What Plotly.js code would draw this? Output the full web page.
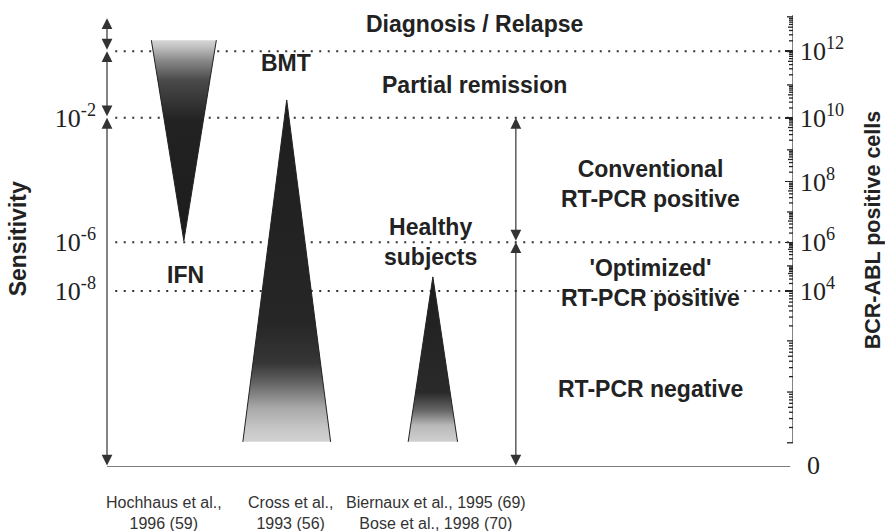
<!DOCTYPE html>
<html>
<head>
<meta charset="utf-8">
<script src="https://cdn.plot.ly/plotly-3.0.1.min.js"></script>
<style>html,body{margin:0;padding:0;background:#fff;}</style>
</head>
<body>
<div id="chart" style="width:885px;height:531px;"></div>
<script>
// ---- data (schematic level units, 0 = baseline, 100 = top of panel) ----
const sensLabels = ['10<sup>-2</sup>', '10<sup>-6</sup>', '10<sup>-8</sup>'];
const sensPos = [76.4, 49.2, 38.5];

const cellExp = [13, 12, 11, 10, 9, 8, 7, 6, 5, 4, 3, 2, 1];
const cellPos = [98.5, 91.0, 83.6, 76.4, 69.4, 62.4, 55.8, 49.2, 44.0, 38.5, 27.6, 16.4, 5.3];
const cellLabeled = [12, 10, 8, 6, 4];

const boundaryPos = [91.0, 76.4, 49.2, 38.5];

const groups = ['IFN', 'BMT', 'Healthy<br>subjects'];
const triCenterX = [11.2, 26.2, 47.5];
const triApexY = [49.5, 80.3, 41.6];
const triBaseY = [93.4, 5.5, 5.5];
const triHalfW = [4.74, 6.4, 3.6];
const groupLabelX = [11.4, 26.1, 47.1];
const groupLabelY = [42.0, 88.4, 49.2];

const zoneLabels = ['Diagnosis / Relapse', 'Partial remission', 'Conventional<br>RT-PCR positive',
  "'Optimized'<br>RT-PCR positive", 'RT-PCR negative'];
const zoneX = [53.5, 53.6, 79.2, 79.2, 79.2];
const zoneY = [96.9, 83.6, 61.9, 40.3, 17.1];

const refs = ['Hochhaus et al.,<br>1996 (59)', 'Cross et al.,<br>1993 (56)',
  'Biernaux et al., 1995 (69)<br>Bose et al., 1998 (70)'];
const refX = [8.3, 26.7, 48.0];

const leftArrowX = 0;
const leftArrowStops = [98.2, 91.0, 76.4, 0];
const rightArrowX = 59.6;
const rightArrowStops = [76.4, 49.2, 0];

const gradients = [
  [[0, '#1c1c1c'], [0.6, '#222222'], [0.8, '#4a4a4a'], [0.9, '#8a8a8a'], [0.97, '#c4c4c4'], [1, '#d6d6d6']],
  [[0, '#d2d2d2'], [0.04, '#c6c6c6'], [0.1, '#a8a8a8'], [0.17, '#666666'], [0.23, '#363636'], [0.35, '#262626'], [1, '#1e1e1e']],
  [[0, '#d0d0d0'], [0.1, '#b8b8b8'], [0.19, '#666666'], [0.3, '#2a2a2a'], [1, '#1e1e1e']]
];

// ---- build ----
const sans = 'Liberation Sans, Arial, Helvetica, sans-serif';
const serif = 'Liberation Serif, Times New Roman, serif';
const ink = '#222222';

const traces = [];
for (let i = 0; i < groups.length; i++) {
  const xs = [triCenterX[i] - triHalfW[i], triCenterX[i] + triHalfW[i], triCenterX[i], triCenterX[i] - triHalfW[i]];
  const ys = [triBaseY[i], triBaseY[i], triApexY[i], triBaseY[i]];
  traces.push({
    type: 'scatter', mode: 'lines', x: xs, y: ys, fill: 'toself',
    line: {width: 0, color: 'rgba(0,0,0,0)'},
    fillgradient: {type: 'vertical', start: Math.min(triApexY[i], triBaseY[i]),
      stop: Math.max(triApexY[i], triBaseY[i]), colorscale: gradients[i]},
    hoverinfo: 'skip', showlegend: false
  });
  traces.push({
    type: 'scatter', mode: 'lines',
    x: [triCenterX[i] - triHalfW[i], triCenterX[i], triCenterX[i] + triHalfW[i]],
    y: [triBaseY[i], triApexY[i], triBaseY[i]],
    line: {width: 1, color: ink}, hoverinfo: 'skip', showlegend: false
  });
}
// dummy trace for right axis
traces.push({type: 'scatter', x: [0], y: [0], yaxis: 'y2', mode: 'markers',
  marker: {opacity: 0}, hoverinfo: 'skip', showlegend: false});

const shapes = [];
boundaryPos.forEach(y => shapes.push({
  type: 'line', xref: 'x', yref: 'y', x0: 1.2, x1: 99.6, y0: y, y1: y, layer: 'below',
  line: {color: '#333', width: 2, dash: '2px,6.5px'}
}));
// baseline
shapes.push({type: 'line', xref: 'x', yref: 'y', x0: 0, x1: 99.6, y0: 0, y1: 0,
  line: {color: '#555', width: 1.5}});
// right axis line
shapes.push({type: 'line', xref: 'x', yref: 'y', x0: 100, x1: 100, y0: cellPos[cellPos.length - 1], y1: 98.9,
  line: {color: '#333', width: 1.2}});
// right axis decade + minor ticks (log pattern inside each schematic decade)
function tick(yv, len) {
  shapes.push({type: 'line', xref: 'x', yref: 'y', xsizemode: 'pixel', xanchor: 100, x0: -len, x1: 0,
    y0: yv, y1: yv, line: {color: '#222', width: 1.3}});
}
cellPos.forEach((p, i) => { if (!cellLabeled.includes(cellExp[i])) tick(p, 6); });
for (let i = 0; i < cellPos.length - 1; i++) {
  const lo = cellPos[i + 1], hi = cellPos[i];
  for (let k = 2; k <= 9; k++) tick(lo + Math.log10(k) * (hi - lo), k === 5 ? 5 : 4);
}

const annotations = [];
function arrow(x, y0, y1) {
  annotations.push({x: x, y: y1, ax: x, ay: y0, xref: 'x', yref: 'y', axref: 'x', ayref: 'y',
    text: '', showarrow: true, arrowhead: 2, startarrowhead: 2, arrowside: 'end+start',
    arrowsize: 1.8, startarrowsize: 1.8, arrowwidth: 1.2, arrowcolor: '#333', standoff: 0, startstandoff: 0});
}
for (let i = 0; i < leftArrowStops.length - 1; i++) arrow(leftArrowX, leftArrowStops[i + 1], leftArrowStops[i]);
for (let i = 0; i < rightArrowStops.length - 1; i++) arrow(rightArrowX, rightArrowStops[i + 1], rightArrowStops[i]);

const bold = {family: sans, size: 23, color: ink, weight: 'bold'};
zoneLabels.forEach((t, i) => annotations.push({x: zoneX[i], y: zoneY[i], xref: 'x', yref: 'y', text: t,
  showarrow: false, font: bold, align: 'center'}));
groups.forEach((t, i) => annotations.push({x: groupLabelX[i], y: groupLabelY[i], xref: 'x', yref: 'y', text: t,
  showarrow: false, font: bold, align: 'center'}));
refs.forEach((t, i) => annotations.push({x: refX[i] / 100, y: -0.0996, xref: 'paper', yref: 'paper', text: t,
  xanchor: 'center', yanchor: 'middle',
  showarrow: false, font: {family: sans, size: 16, color: '#333'}, align: 'center'}));
annotations.push({x: 1, xanchor: 'left', xshift: 12, y: 0.4, xref: 'paper', yref: 'y', text: '0',
  showarrow: false, font: {family: serif, size: 26, color: ink}});
annotations.push({x: -0.13, xanchor: 'center', y: 0.5, xref: 'paper', yref: 'paper', text: 'Sensitivity', textangle: -90,
  showarrow: false, font: bold});
annotations.push({x: 1.1166, xanchor: 'center', y: 0.52, xref: 'paper', yref: 'paper', text: 'BCR-ABL positive cells', textangle: -90,
  showarrow: false, font: {family: sans, size: 21.5, color: ink, weight: 'bold'}});

const majorVals = cellExp.filter(e => cellLabeled.includes(e)).map(e => cellPos[cellExp.indexOf(e)]);
const majorText = cellExp.filter(e => cellLabeled.includes(e)).map(e => '10<sup>' + e + '</sup>');

const layout = {
  width: 885, height: 531,
  margin: {l: 107, r: 92, t: 10, b: 64},
  paper_bgcolor: '#fff', plot_bgcolor: '#fff',
  showlegend: false,
  xaxis: {range: [0, 100], showgrid: false, zeroline: false, showticklabels: false, showline: false, ticks: '', fixedrange: true},
  yaxis: {range: [0, 100], showgrid: false, zeroline: false, showline: false, ticks: '',
    tickmode: 'array', tickvals: sensPos, ticktext: sensLabels, ticklabelstandoff: 10,
    tickfont: {family: serif, size: 26, color: ink}},
  yaxis2: {range: [0, 100], overlaying: 'y', side: 'right', anchor: 'x', showgrid: false, zeroline: false, showline: false,
    tickmode: 'array', tickvals: majorVals, ticktext: majorText, ticks: 'inside', ticklen: 8, tickwidth: 1.3, tickcolor: '#222',
    ticklabelstandoff: 6, tickfont: {family: serif, size: 26, color: ink}},
  shapes: shapes,
  annotations: annotations
};

Plotly.newPlot('chart', traces, layout, {staticPlot: true});
</script>
</body>
</html>
